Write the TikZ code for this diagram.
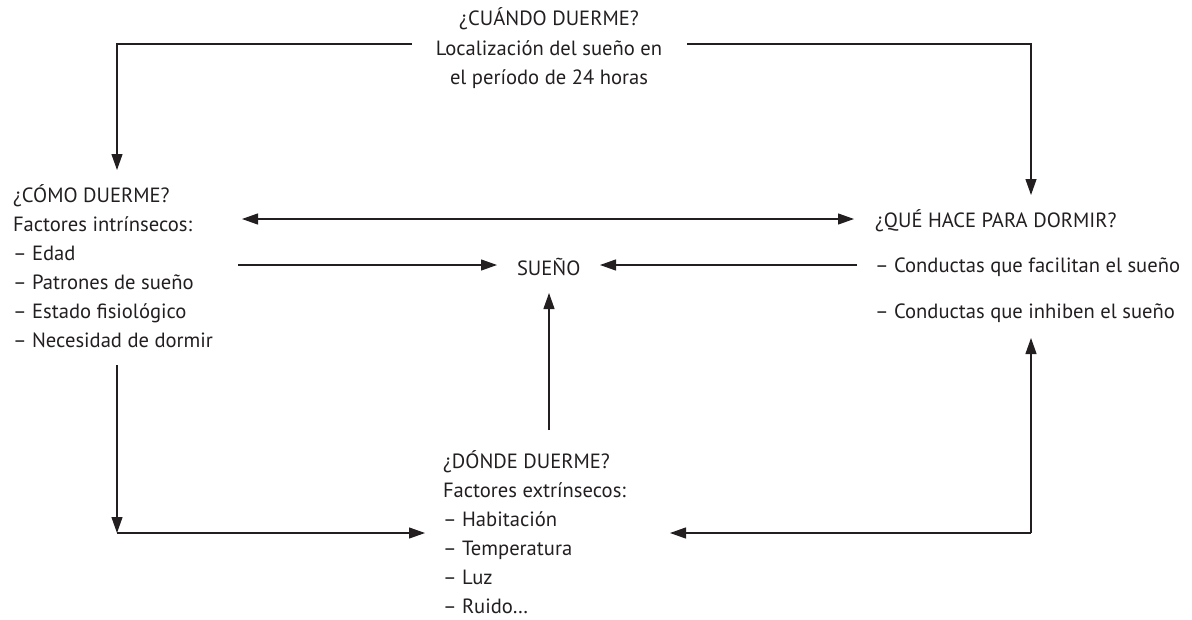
\documentclass[tikz,border=0pt]{standalone}
\usepackage{fontspec}
\setmainfont{PT Sans}
\usetikzlibrary{arrows.meta}
\definecolor{ink}{HTML}{231F20}
\tikzset{
  lbl/.style={inner sep=0pt, outer sep=0pt, text=ink, font=\fontsize{20.6}{25}\selectfont},
  lft/.style={lbl, anchor=base west},
  ctr/.style={lbl, anchor=base},
  conn/.style={draw=ink, line width=1.2pt, -{Triangle[length=16pt,width=11pt]}},
  dconn/.style={conn, {Triangle[length=16pt,width=11pt]}-{Triangle[length=16pt,width=11pt]}},
}
\begin{document}
\begin{tikzpicture}[x=1pt,y=-1pt]
\useasboundingbox (0,0) rectangle (1192,619);

% when
\node[ctr] (cuandoA) at (549,25) {¿CUÁNDO DUERME?};
\node[ctr] (cuandoB) at (549,55) {Localización del sueño en};
\node[ctr] (cuandoC) at (549,84) {el período de 24 horas};

% how
\node[lft] (comoA) at (13,202) {¿CÓMO DUERME?};
\node[lft] (comoB) at (13,231) {Factores intrínsecos:};
\node[lft] (comoC) at (13,260) {– Edad};
\node[lft] (comoD) at (13,289) {– Patrones de sueño};
\node[lft] (comoE) at (13,318) {– Estado fisiológico};
\node[lft] (comoF) at (13,347) {– Necesidad de dormir};

% what
\node[lft] (queA) at (875,227) {¿QUÉ HACE PARA DORMIR?};
\node[lft] (queB) at (875,272) {– Conductas que facilitan el sueño};
\node[lft] (queC) at (875,318) {– Conductas que inhiben el sueño};

% centre
\node[lft] (sueno) at (517,275) {SUEÑO};

% where
\node[lft] (dondeA) at (443,468) {¿DÓNDE DUERME?};
\node[lft] (dondeB) at (443,497) {Factores extrínsecos:};
\node[lft] (dondeC) at (443,526) {– Habitación};
\node[lft] (dondeD) at (443,555) {– Temperatura};
\node[lft] (dondeE) at (443,584) {– Luz};
\node[lft] (dondeF) at (443,613) {– Ruido…};

% corners and free ends of the connectors
\coordinate (topL)   at (412,44);
\coordinate (topLc)  at (117,44);
\coordinate (comoIn) at (117,170);
\coordinate (topR)   at (687,44);
\coordinate (topRc)  at (1031,44);
\coordinate (queIn)  at (1031,195);
\coordinate (dblL)   at (242,219);
\coordinate (dblR)   at (854,219);
\coordinate (sLfrom) at (238,265);
\coordinate (sLto)   at (497,265);
\coordinate (sRfrom) at (857,265);
\coordinate (sRto)   at (600,265);
\coordinate (sDfrom) at (549,430);
\coordinate (sDto)   at (549,293);
\coordinate (botLtop) at (117,365);
\coordinate (botLc)  at (117,533);
\coordinate (dondeInL) at (425,533);
\coordinate (botRc)  at (1031,533);
\coordinate (dondeInR) at (670,533);
\coordinate (queInB) at (1031,338);

% when -> how, when -> what
\draw[conn] (topL) -- (topLc) -- (comoIn);
\draw[conn] (topR) -- (topRc) -- (queIn);
% how <-> what
\draw[dconn] (dblL) -- (dblR);
% into sleep
\draw[conn] (sLfrom) -- (sLto);
\draw[conn] (sRfrom) -- (sRto);
\draw[conn] (sDfrom) -- (sDto);
% how -> where
\draw[conn] (botLtop) -- (botLc);
\draw[conn] (botLc) -- (dondeInL);
% where <-> what
\draw[conn] (botRc) -- (dondeInR);
\draw[conn] (botRc) -- (queInB);
\end{tikzpicture}
\end{document}
